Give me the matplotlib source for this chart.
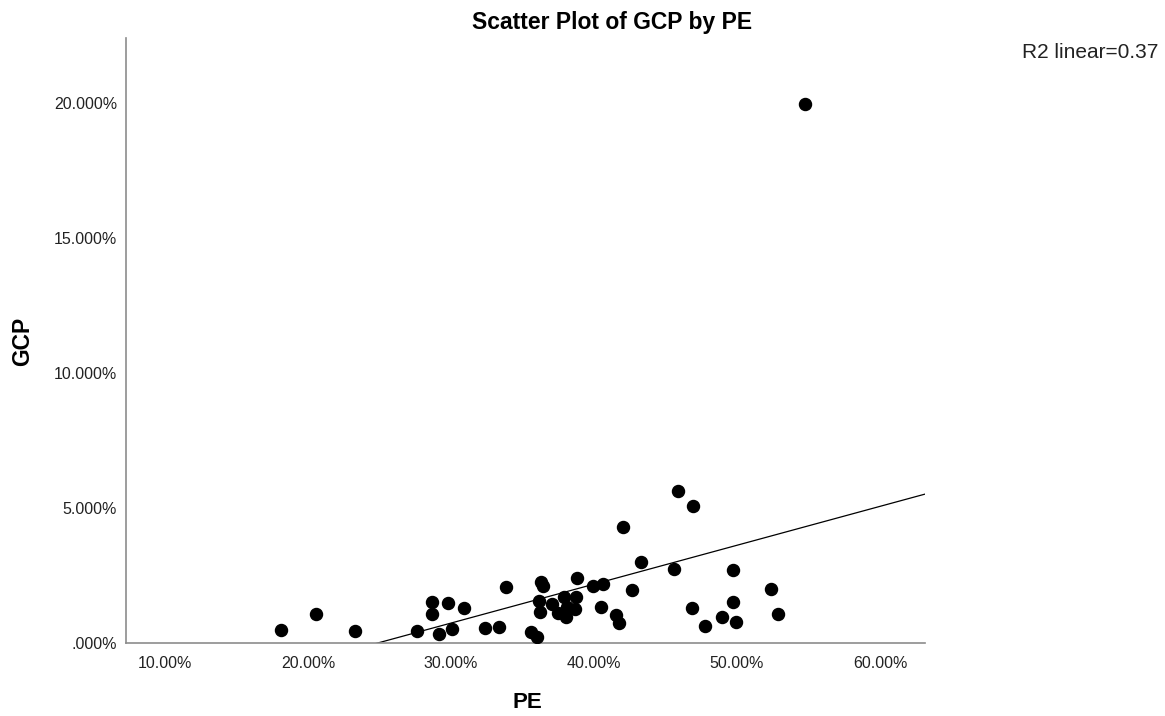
import numpy as np
import matplotlib
matplotlib.use("Agg")
import matplotlib.pyplot as plt
from matplotlib.ticker import FuncFormatter

# PE (%) and GCP (%)
pe = [18.11, 20.56, 23.29, 27.62, 28.67, 28.67, 29.16, 29.79, 30.07, 30.91,
      32.38, 33.36, 33.85, 35.59, 36.01, 36.15, 36.22, 36.29, 36.43, 37.06,
      37.48, 37.90, 38.11, 38.04, 38.67, 38.74, 38.81, 39.93, 40.49, 40.63,
      41.54, 41.75, 42.03, 42.66, 43.29, 45.59, 45.87, 46.85, 46.92, 47.76,
      48.95, 49.72, 49.72, 49.93, 52.38, 52.87, 54.76]
gcp = [0.48, 1.07, 0.44, 0.44, 1.52, 1.07, 0.33, 1.48, 0.52, 1.30,
       0.56, 0.59, 2.07, 0.41, 0.22, 1.56, 1.15, 2.26, 2.11, 1.44,
       1.11, 1.70, 1.33, 0.96, 1.26, 1.70, 2.41, 2.11, 1.33, 2.19,
       1.04, 0.74, 4.30, 1.96, 3.00, 2.74, 5.63, 1.30, 5.07, 0.63,
       0.96, 2.70, 1.52, 0.78, 2.00, 1.07, 19.96]

x_ticks = [10, 20, 30, 40, 50, 60]
y_ticks = [0, 5, 10, 15, 20]
r2_text = "R2 linear=0.37"

plt.rcParams['font.family'] = ['Liberation Sans', 'DejaVu Sans']

fig = plt.figure(figsize=(11.65, 7.16), dpi=100)
ax = fig.add_axes([126 / 1165, 1 - 643 / 716, (925 - 126) / 1165, (643 - 38) / 716])

ax.scatter(pe, gcp, s=75, color='black', zorder=3)

# linear fit
slope, intercept = np.polyfit(pe, gcp, 1)
xl = np.array([7.27, 63.15])
ax.plot(xl, intercept + slope * xl, color='black', linewidth=0.9, zorder=2)

ax.set_xlim(7.27, 63.15)
ax.set_ylim(0, 22.4)
ax.set_xticks(x_ticks)
ax.set_yticks(y_ticks)
ax.xaxis.set_major_formatter(FuncFormatter(lambda v, p: f"{v:.2f}%"))
ax.yaxis.set_major_formatter(FuncFormatter(lambda v, p: f"{v:.3f}%".lstrip("0") if v == 0 else f"{v:.3f}%"))
ax.tick_params(length=0, labelsize=11.5, colors='#222222')
ax.tick_params(axis='x', pad=9)
ax.tick_params(axis='y', pad=6.5)

for side in ['top', 'right']:
    ax.spines[side].set_visible(False)
for side in ['left', 'bottom']:
    ax.spines[side].set_color('#8c8c8c')
    ax.spines[side].set_linewidth(1.2)

fig.text(612 / 1165, 1 - 22 / 716, "Scatter Plot of GCP by PE", ha='center', va='center',
         fontsize=16.5, fontweight='bold')
fig.text(1158 / 1165, 1 - 53 / 716, r2_text, ha='right', va='center', fontsize=15, color='#222222')
fig.text(527 / 1165, 1 - 702 / 716, "PE", ha='center', va='center', fontsize=16, fontweight='bold')
fig.text(23 / 1165, 1 - 341 / 716, "GCP", ha='center', va='center', rotation=90,
         fontsize=16.5, fontweight='bold')

fig.savefig("out.png", dpi=100)
